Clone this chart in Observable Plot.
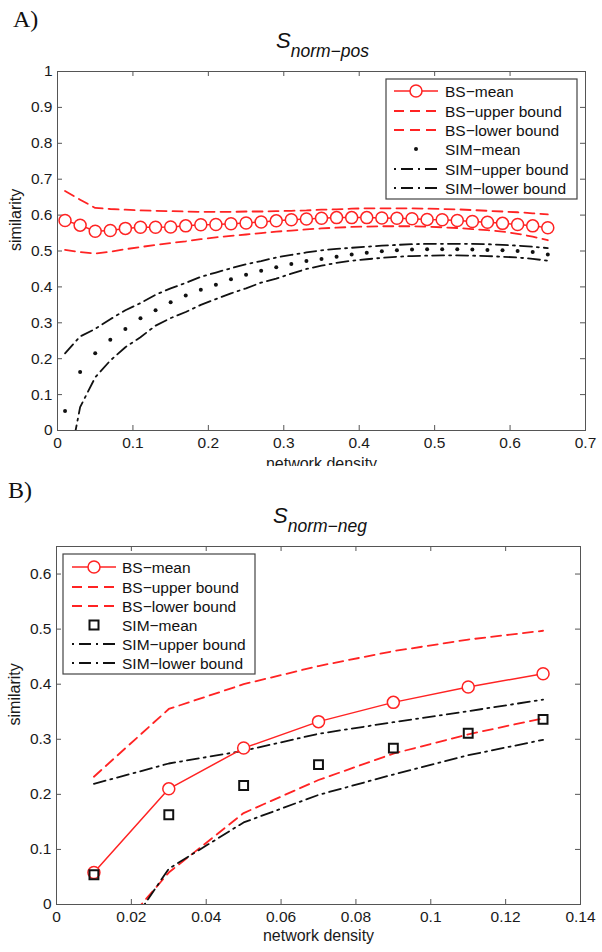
<!DOCTYPE html>
<html><head><meta charset="utf-8">
<script src="https://cdn.jsdelivr.net/npm/d3@7"></script>
<script src="https://cdn.jsdelivr.net/npm/@observablehq/plot@0.6"></script>
<style>
html,body{margin:0;padding:0;background:#fff;}
body{width:602px;height:952px;position:relative;overflow:hidden;font-family:"Liberation Sans",Arial,sans-serif;}
.abs{position:absolute;left:0;}
svg{display:block;}
</style></head><body>
<div id="pa" class="abs" style="top:0"></div>
<div id="pb" class="abs" style="top:466px"></div>
<svg id="ov" class="abs" style="top:0;pointer-events:none" width="602" height="952"></svg>
<script>
// ---------- data ----------
const xA = [0.01,0.03,0.05,0.07,0.09,0.11,0.13,0.15,0.17,0.19,0.21,0.23,0.25,0.27,0.29,0.31,0.33,0.35,0.37,0.39,0.41,0.43,0.45,0.47,0.49,0.51,0.53,0.55,0.57,0.59,0.61,0.63,0.65];
const bsMeanA = [0.585,0.572,0.555,0.557,0.563,0.566,0.566,0.567,0.570,0.573,0.574,0.576,0.578,0.581,0.584,0.587,0.589,0.591,0.593,0.593,0.593,0.592,0.591,0.590,0.588,0.587,0.585,0.582,0.580,0.577,0.574,0.570,0.565];
const bsUpperA = [0.667,0.643,0.620,0.617,0.615,0.613,0.612,0.611,0.610,0.609,0.609,0.609,0.610,0.610,0.611,0.612,0.613,0.615,0.616,0.618,0.619,0.619,0.619,0.619,0.618,0.617,0.616,0.614,0.612,0.610,0.608,0.605,0.602];
const bsLowerA = [0.503,0.497,0.493,0.498,0.505,0.511,0.517,0.522,0.527,0.533,0.538,0.542,0.546,0.550,0.554,0.557,0.560,0.563,0.565,0.567,0.568,0.569,0.569,0.569,0.568,0.566,0.564,0.561,0.558,0.554,0.548,0.540,0.530];
const simMeanA = [0.054,0.163,0.215,0.253,0.283,0.313,0.335,0.357,0.376,0.392,0.406,0.421,0.434,0.445,0.455,0.464,0.472,0.478,0.484,0.490,0.495,0.499,0.502,0.504,0.505,0.505,0.505,0.504,0.503,0.502,0.500,0.497,0.490];
const simUpperA = [0.215,0.262,0.283,0.310,0.335,0.355,0.378,0.396,0.411,0.428,0.440,0.452,0.463,0.472,0.482,0.489,0.496,0.502,0.506,0.509,0.512,0.515,0.517,0.519,0.520,0.520,0.520,0.520,0.519,0.517,0.515,0.512,0.508];
const simLowerA = [-0.150,0.065,0.148,0.195,0.232,0.260,0.292,0.313,0.330,0.350,0.366,0.382,0.396,0.412,0.423,0.437,0.450,0.459,0.467,0.473,0.477,0.481,0.484,0.486,0.487,0.488,0.488,0.487,0.486,0.484,0.482,0.478,0.473];

const xB = [0.01,0.03,0.05,0.07,0.09,0.11,0.13];
const bsMeanB = [0.058,0.210,0.284,0.332,0.367,0.395,0.419];
const bsUpperB = [0.232,0.355,0.400,0.433,0.460,0.481,0.497];
const bsLowerB = [-0.100,0.058,0.166,0.226,0.274,0.309,0.338];
const simMeanB = [0.054,0.163,0.216,0.254,0.284,0.311,0.336];
const simUpperB = [0.219,0.256,0.279,0.310,0.331,0.351,0.372];
const simLowerB = [-0.135,0.065,0.149,0.199,0.236,0.271,0.299];

const xTicksA = [0,0.1,0.2,0.3,0.4,0.5,0.6,0.7];
const yTicksA = [0,0.1,0.2,0.3,0.4,0.5,0.6,0.7,0.8,0.9,1];
const xTicksB = [0,0.02,0.04,0.06,0.08,0.1,0.12,0.14];
const yTicksB = [0,0.1,0.2,0.3,0.4,0.5,0.6];

const seriesNames = ["BS\u2212mean","BS\u2212upper bound","BS\u2212lower bound","SIM\u2212mean","SIM\u2212upper bound","SIM\u2212lower bound"];
const panelLabels = ["A)","B)"];
const titleSubs = ["norm\u2212pos","norm\u2212neg"];
const xLabel = "network density";
const yLabel = "similarity";

// ---------- styles ----------
const RED = "#ff2323";
const FRAME = "#555";
const DASH = "10,6";
const DASHDOT = "12,5,2,5";
const FONT = "Liberation Sans, Arial, sans-serif";

function makeRows(xs, m, u, l, sm, su, sl) {
  return xs.map((x, i) => ({x, bsMean: m[i], bsUpper: u[i], bsLower: l[i], simMean: sm[i], simUpper: su[i], simLower: sl[i]}));
}

function panel(o) {
  const fw = o.width - o.ml - o.mr, fh = o.height - o.mt - o.mb;
  const simMark = o.square
    ? Plot.dot(o.rows, {x: "x", y: "simMean", symbol: "square", r: 5.0, stroke: "#111", strokeWidth: 2, fill: "none"})
    : Plot.dot(o.rows, {x: "x", y: "simMean", r: 2, fill: "#111", stroke: null});
  return Plot.plot({
    width: o.width, height: o.height,
    marginTop: o.mt, marginBottom: o.mb, marginLeft: o.ml, marginRight: o.mr,
    x: {domain: o.xDomain, label: null},
    y: {domain: o.yDomain, label: null},
    style: {fontFamily: FONT, fontSize: "15.5px", color: "#1a1a1a", background: "transparent", overflow: "hidden"},
    marks: [
      Plot.ruleX(o.xTicks, {x: d => d, insetTop: fh - 5, stroke: FRAME}),
      Plot.ruleX(o.xTicks, {x: d => d, insetBottom: fh - 5, stroke: FRAME}),
      Plot.ruleY(o.yTicks, {y: d => d, insetRight: fw - 5, stroke: FRAME}),
      Plot.ruleY(o.yTicks, {y: d => d, insetLeft: fw - 5, stroke: FRAME}),
      Plot.line(o.rows, {x: "x", y: "bsUpper", stroke: RED, strokeWidth: 1.8, strokeDasharray: DASH, clip: true}),
      Plot.line(o.rows, {x: "x", y: "bsLower", stroke: RED, strokeWidth: 1.8, strokeDasharray: DASH, clip: true}),
      Plot.line(o.rows, {x: "x", y: "simUpper", stroke: "#111", strokeWidth: 1.8, strokeDasharray: DASHDOT, clip: true}),
      Plot.line(o.rows, {x: "x", y: "simLower", stroke: "#111", strokeWidth: 1.8, strokeDasharray: DASHDOT, clip: true}),
      Plot.line(o.rows, {x: "x", y: "bsMean", stroke: RED, strokeWidth: 1.5, clip: true}),
      Plot.dot(o.rows, {x: "x", y: "bsMean", r: 6, stroke: RED, strokeWidth: 1.5, fill: "white"}),
      simMark,
      Plot.frame({stroke: FRAME, strokeWidth: 1}),
      Plot.axisX({ticks: o.xTicks, tickSize: 0, tickPadding: 6, tickFormat: d => String(d), fontSize: 15.5, label: null}),
      Plot.axisY({ticks: o.yTicks, tickSize: 0, tickPadding: 5, tickFormat: d => String(d), fontSize: 15.5, label: null}),
      Plot.text([xLabel], {text: d => d, frameAnchor: "bottom", dy: o.xlabDy, fontSize: 16}),
      Plot.text([yLabel], {text: d => d, frameAnchor: "left", dx: -42, rotate: -90, fontSize: 16})
    ]
  });
}

const rowsA = makeRows(xA, bsMeanA, bsUpperA, bsLowerA, simMeanA, simUpperA, simLowerA);
const rowsB = makeRows(xB, bsMeanB, bsUpperB, bsLowerB, simMeanB, simUpperB, simLowerB);

document.getElementById("pa").appendChild(panel({
  rows: rowsA, xDomain: [0, 0.7], yDomain: [0, 1], xTicks: xTicksA, yTicks: yTicksA,
  width: 602, height: 466, mt: 71, mb: 36, ml: 57, mr: 17, xlabDy: 38, square: false
}));
document.getElementById("pb").appendChild(panel({
  rows: rowsB, xDomain: [0, 0.14], yDomain: [0, 0.65], xTicks: xTicksB, yTicks: yTicksB,
  width: 602, height: 486, mt: 80, mb: 48, ml: 56, mr: 22, xlabDy: 36, square: true
}));

// ---------- overlay: panel labels, titles, legends ----------
const ov = d3.select("#ov");
ov.append("text").attr("x", 13).attr("y", 27).attr("font-family", "Liberation Serif, Times New Roman, serif").attr("font-size", 24).attr("fill", "#111").text(panelLabels[0]);
ov.append("text").attr("x", 8).attr("y", 498).attr("font-family", "Liberation Serif, Times New Roman, serif").attr("font-size", 24).attr("fill", "#111").text(panelLabels[1]);

function title(x, y, sub) {
  const t = ov.append("text").attr("x", x).attr("y", y).attr("font-family", FONT).attr("fill", "#111");
  t.append("tspan").attr("font-size", 22).attr("font-style", "italic").text("S");
  t.append("tspan").attr("font-size", 17.5).attr("font-style", "italic").attr("dy", 9).text(sub);
}
title(276, 48, titleSubs[0]);
title(273, 523, titleSubs[1]);

function legend(bx, by, bw, bh, lx0, lx1, tx, rowY, square) {
  ov.append("rect").attr("x", bx).attr("y", by).attr("width", bw).attr("height", bh)
    .attr("fill", "white").attr("stroke", "#444").attr("stroke-width", 1.2);
  const cx = (lx0 + lx1) / 2;
  seriesNames.forEach((name, i) => {
    const y = rowY[i];
    if (i === 0) {
      ov.append("line").attr("x1", lx0).attr("x2", lx1).attr("y1", y).attr("y2", y).attr("stroke", RED).attr("stroke-width", 1.5);
      ov.append("circle").attr("cx", cx).attr("cy", y).attr("r", 6).attr("fill", "white").attr("stroke", RED).attr("stroke-width", 1.5);
    } else if (i === 1 || i === 2) {
      ov.append("line").attr("x1", lx0).attr("x2", lx1).attr("y1", y).attr("y2", y).attr("stroke", RED).attr("stroke-width", 1.8).attr("stroke-dasharray", DASH);
    } else if (i === 3) {
      if (square) ov.append("rect").attr("x", cx - 4.5).attr("y", y - 4.5).attr("width", 9).attr("height", 9).attr("fill", "none").attr("stroke", "#111").attr("stroke-width", 2);
      else ov.append("circle").attr("cx", cx).attr("cy", y).attr("r", 2).attr("fill", "#111");
    } else {
      ov.append("line").attr("x1", lx0).attr("x2", lx1).attr("y1", y).attr("y2", y).attr("stroke", "#111").attr("stroke-width", 1.8).attr("stroke-dasharray", "2,5,12,5");
    }
    ov.append("text").attr("x", tx).attr("y", y + 5.5).attr("font-family", FONT).attr("font-size", 15.5).attr("fill", "#111").text(name);
  });
}
legend(386, 79, 191, 120, 394, 438, 445, [91, 111, 130, 149, 169, 188], false);
legend(63, 554, 192, 120, 72, 116, 122, [567, 587, 606, 625, 644, 663], true);
</script>
</body></html>
